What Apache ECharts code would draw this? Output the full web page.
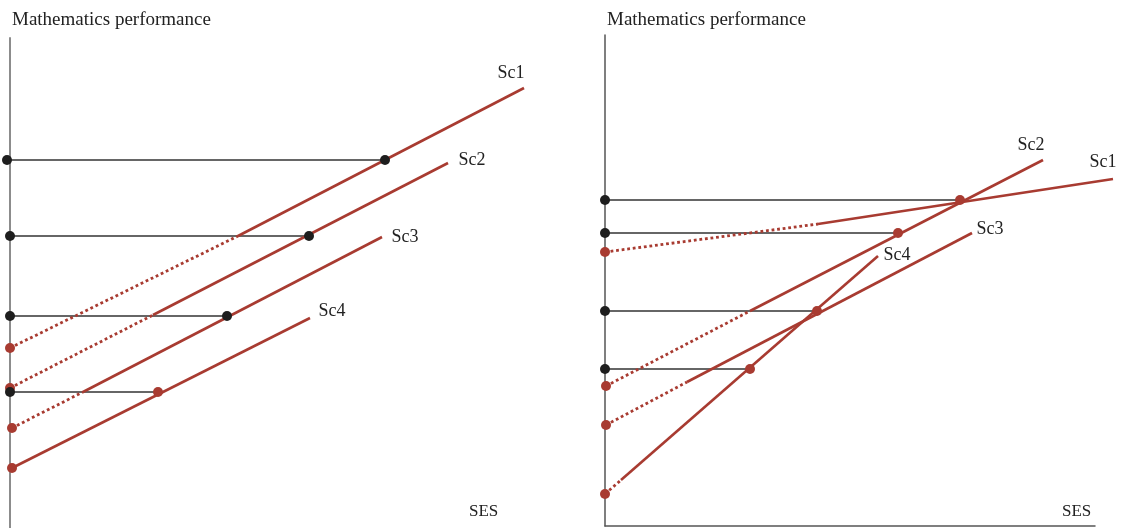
<!DOCTYPE html>
<html><head><meta charset="utf-8">
<script src="https://cdn.jsdelivr.net/npm/echarts@6/dist/echarts.min.js"></script>
<style>html,body{margin:0;padding:0;background:#fff}#c{width:1122px;height:528px}</style>
</head><body><div id="c"></div>
<script>
// ---------- data (arbitrary units: SES on x, Mathematics performance on y) ----------
const scenarios = ['Sc1', 'Sc2', 'Sc3', 'Sc4'];

// Left panel: parallel scenario lines
const leftDotted = [
  [[0, 180], [228, 292]],
  [[0, 140], [143, 213]],
  [[2, 100], [73, 136]],
  null
];
const leftSolid = [
  [[228, 292], [514, 440]],
  [[143, 213], [438, 365]],
  [[73, 136], [372, 291]],
  [[2, 60], [300, 210]]
];
const leftRefLevels = [368, 292, 212, 136];
const leftRefStartX = [-3, 0, 0, 0];
const leftRefEndX = [375, 299, 217, 148];
const leftRefEndIsRed = [false, false, false, true];

// Right panel: scenario lines with differing slopes
const rightDotted = [
  [[0, 274], [213, 302]],
  [[1, 140], [145, 215]],
  [[1, 101], [82, 144]],
  [[0, 32], [16, 46]]
];
const rightSolid = [
  [[213, 302], [508, 347]],
  [[145, 215], [438, 366]],
  [[82, 144], [367, 293]],
  [[16, 46], [273, 270]]
];
const rightRefLevels = [326, 293, 215, 157];
const rightRefEndX = [355, 293, 212, 145];

const yTitle = 'Mathematics performance';
const xTitle = 'SES';

// ---------- styles ----------
const RED = '#a83b31';
const BLACK = '#1e1e1e';
const FONT = 'Liberation Serif';
const leftLabelOffsets = [[-13, -15], [24, -3], [23, 0], [22, -7]];
const rightLabelOffsets = [[-10, -17], [-12, -15], [18, -4], [19, -1]];

const series = [];
function addPanel(idx, dotted, solid, levels, startX, endX, endRed, offsets) {
  levels.forEach((lv, i) => {
    series.push({
      type: 'line', xAxisIndex: idx, yAxisIndex: idx, clip: false, silent: true,
      symbol: 'none', data: [[startX[i], lv], [endX[i], lv]],
      lineStyle: { color: '#333', width: 1.3 }, z: 2
    });
  });
  scenarios.forEach((s, i) => {
    if (dotted[i]) series.push({
      type: 'line', xAxisIndex: idx, yAxisIndex: idx, clip: false, silent: true,
      symbol: 'none', data: dotted[i],
      lineStyle: { color: RED, width: 2.8, type: [2.8, 2.8], cap: 'butt' }, z: 3
    });
    series.push({
      type: 'line', xAxisIndex: idx, yAxisIndex: idx, clip: false, silent: true,
      symbol: 'none', data: solid[i],
      lineStyle: { color: RED, width: 2.6 }, z: 3
    });
  });
  series.push({
    type: 'scatter', xAxisIndex: idx, yAxisIndex: idx, clip: false, silent: true,
    symbolSize: 10, itemStyle: { color: RED, opacity: 1 }, z: 5,
    data: scenarios.map((s, i) => (dotted[i] || solid[i])[0])
  });
  series.push({
    type: 'scatter', xAxisIndex: idx, yAxisIndex: idx, clip: false, silent: true,
    symbolSize: 10, itemStyle: { color: BLACK, opacity: 1 }, z: 6,
    data: levels.map((lv, i) => [startX[i], lv])
  });
  series.push({
    type: 'scatter', xAxisIndex: idx, yAxisIndex: idx, clip: false, silent: true,
    symbolSize: 10, z: 6,
    data: levels.map((lv, i) => ({ value: [endX[i], lv], itemStyle: { color: endRed[i] ? RED : BLACK, opacity: 1 } }))
  });
  series.push({
    type: 'scatter', xAxisIndex: idx, yAxisIndex: idx, clip: false, silent: true,
    symbolSize: 1, itemStyle: { color: 'rgba(0,0,0,0)', opacity: 1 }, z: 7,
    data: scenarios.map((s, i) => ({
      value: solid[i][solid[i].length - 1], name: s,
      label: { show: true, position: 'inside', offset: offsets[i], formatter: s,
        color: '#222', fontSize: 18, fontFamily: FONT }
    }))
  });
}
addPanel(0, leftDotted, leftSolid, leftRefLevels, leftRefStartX, leftRefEndX, leftRefEndIsRed, leftLabelOffsets);
addPanel(1, rightDotted, rightSolid, rightRefLevels, [0, 0, 0, 0], rightRefEndX, [true, true, true, true], rightLabelOffsets);

const hidden = { show: false };
const tStyle = { fontFamily: FONT, fontSize: 19, fontWeight: 'normal', color: '#222' };
const option = {
  animation: false,
  backgroundColor: '#fff',
  title: [
    { text: yTitle, left: 7, top: 6, textStyle: tStyle },
    { text: yTitle, left: 602, top: 6, textStyle: tStyle },
    { text: xTitle, left: 464, top: 498, textStyle: Object.assign({}, tStyle, { fontSize: 17 }) },
    { text: xTitle, left: 1057, top: 498, textStyle: Object.assign({}, tStyle, { fontSize: 17 }) }
  ],
  grid: [
    { left: 10, top: 38, width: 520, height: 490 },
    { left: 605, top: 35, width: 517, height: 491 },
    { left: 605, top: 35, width: 490, height: 491 }
  ],
  xAxis: [
    { type: 'value', gridIndex: 0, min: 0, max: 520, show: false },
    { type: 'value', gridIndex: 1, min: 0, max: 517, show: false },
    { type: 'value', gridIndex: 2, min: 0, max: 490,
      axisLine: { show: true, onZero: false, lineStyle: { color: '#555', width: 1.5 } },
      axisTick: hidden, axisLabel: hidden, splitLine: hidden }
  ],
  yAxis: [
    { type: 'value', gridIndex: 0, min: 0, max: 490,
      axisLine: { show: true, onZero: false, lineStyle: { color: '#8c8c8c', width: 2 } },
      axisTick: hidden, axisLabel: hidden, splitLine: hidden },
    { type: 'value', gridIndex: 1, min: 0, max: 491, show: false },
    { type: 'value', gridIndex: 2, min: 0, max: 491,
      axisLine: { show: true, onZero: false, lineStyle: { color: '#555', width: 1.5 } },
      axisTick: hidden, axisLabel: hidden, splitLine: hidden }
  ],
  series: series
};
const chart = echarts.init(document.getElementById('c'), null, { renderer: 'canvas' });
chart.setOption(option);
</script>
</body></html>
